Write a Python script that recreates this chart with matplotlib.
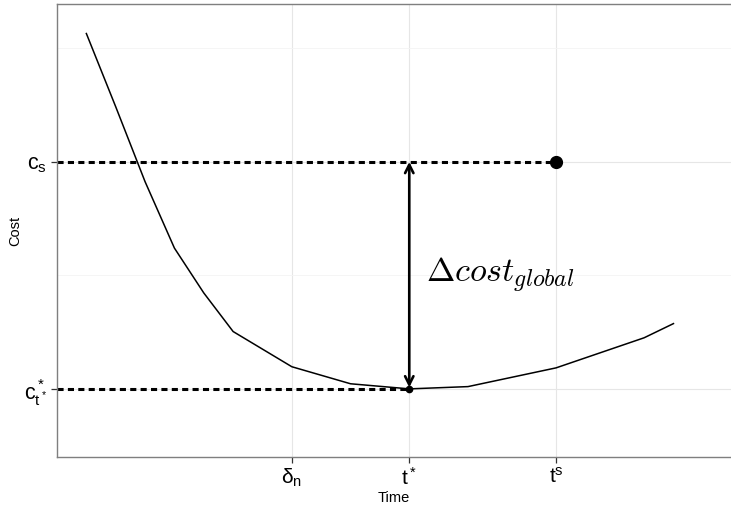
import matplotlib.pyplot as plt
from matplotlib.ticker import FixedLocator

# cost curve over time
time = [1, 2, 3, 4, 5, 6, 8, 10, 12, 14, 17, 20, 21]
cost = [8.26, 6.97, 5.65, 4.48, 3.69, 3.01, 2.39, 2.09, 2.0, 2.04, 2.37, 2.90, 3.15]

# optimum and the single point
t_opt, c_opt = 12, 2.0
t_s, c_s = 17, 6.0

x_breaks = [8, 12, 17]
x_labels = [r'$\mathrm{δ_n}$', r'$\mathrm{t^*}$', r'$\mathrm{t^s}$']
y_breaks = [2, 6]
y_labels = [r'$\mathrm{c^*_{t^*}}$', r'$\mathrm{c_s}$']

plt.rcParams['font.family'] = ['Liberation Sans', 'DejaVu Sans']
plt.rcParams['mathtext.fontset'] = 'custom'
plt.rcParams['mathtext.rm'] = 'Liberation Sans'
plt.rcParams['mathtext.it'] = 'Liberation Sans:italic'

fig = plt.figure(figsize=(7.31, 5.08), dpi=100)
ax = fig.add_axes([57/731, 1-457/508, (731-57)/731, (457-4)/508])

ax.set_xlim(0, 22.96)
ax.set_ylim(0.8, 8.78)

# grid
ax.xaxis.set_major_locator(FixedLocator(x_breaks))
ax.yaxis.set_major_locator(FixedLocator(y_breaks))
ax.yaxis.set_minor_locator(FixedLocator([4, 8]))
ax.grid(which='major', color='#e6e6e6', lw=0.8)
ax.grid(which='minor', axis='y', color='#f4f4f4', lw=0.6)
ax.set_axisbelow(True)
ax.set_xticklabels(x_labels, fontsize=15)
ax.set_yticklabels(y_labels, fontsize=15.5)
ax.tick_params(which='major', length=4, width=0.9, color='#333333', pad=3)
ax.tick_params(which='minor', length=0)

for side in ['left', 'bottom', 'top']:
	ax.spines[side].set_color('#7f7f7f')
	ax.spines[side].set_linewidth(1.0)
ax.spines['right'].set_visible(False)

# dashed reference lines
ax.plot([0, t_s], [c_s, c_s], color='black', lw=2.2, dashes=(2, 1.4))
ax.plot([0, t_opt], [c_opt, c_opt], color='black', lw=2.2, dashes=(2, 1.4))

ax.plot(time, cost, color='black', lw=1.1)

ax.plot(t_s, c_s, 'o', color='black', ms=8.5)
ax.plot(t_opt, c_opt, 'o', color='black', ms=4.5)

ax.annotate('', xy=(t_opt, c_s), xytext=(t_opt, c_opt),
	arrowprops=dict(arrowstyle='<->,head_length=0.6,head_width=0.3', lw=1.9,
		color='black', shrinkA=1, shrinkB=0))
ax.text(12.58, 3.9, r'$\Delta cost_{global}$', fontsize=24.5, math_fontfamily='cm')

ax.set_xlabel('Time', fontsize=10.5, labelpad=1.5)
ax.set_ylabel('Cost', fontsize=10.5)
ax.yaxis.set_label_coords(-0.052, 0.5)

fig.savefig('out.png', dpi=100)
